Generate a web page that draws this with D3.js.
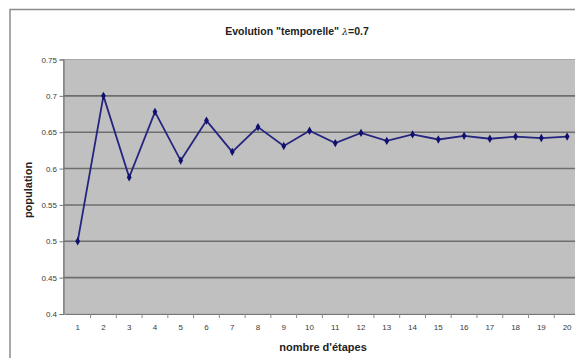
<!DOCTYPE html>
<html>
<head>
<meta charset="utf-8">
<script src="https://cdn.jsdelivr.net/npm/d3@7/dist/d3.min.js"></script>
<style>
  body { margin: 0; background: #fff; }
  svg { display: block; font-family: "Liberation Sans", Arial, sans-serif; }
</style>
</head>
<body>
<svg id="chart" width="575" height="358"></svg>
<script>
// chart data
var etapes = d3.range(1, 21);
var population = [0.5, 0.7, 0.588, 0.678, 0.611, 0.666, 0.623, 0.657, 0.631, 0.652,
                  0.635, 0.649, 0.638, 0.647, 0.640, 0.645, 0.641, 0.644, 0.642, 0.644];
var yTicks = [0.4, 0.45, 0.5, 0.55, 0.6, 0.65, 0.7, 0.75];
var yTickLabels = ["0.4", "0.45", "0.5", "0.55", "0.6", "0.65", "0.7", "0.75"];

var svg = d3.select("#chart");
var plot = {left: 63.5, top: 59.5, right: 580, bottom: 314};

// outer chart frame
svg.append("rect")
    .attr("x", 10).attr("y", 9.5)
    .attr("width", 600).attr("height", 400)
    .attr("fill", "#fff")
    .attr("stroke", "#8c8c8c")
    .attr("stroke-width", 1.5);

var x = d3.scaleBand()
    .domain(etapes)
    .range([plot.left + 1.3, plot.right]);

var y = d3.scaleLinear()
    .domain([0.4, 0.75])
    .range([plot.bottom, plot.top]);

// plot area
svg.append("rect")
    .attr("x", plot.left).attr("y", plot.top)
    .attr("width", plot.right - plot.left)
    .attr("height", plot.bottom - plot.top)
    .attr("fill", "#c0c0c0")
    .attr("stroke", "#a8a8a8");

// grid lines
svg.selectAll(".grid")
    .data(yTicks.filter(function (d) { return d > 0.4 && d < 0.75; }))
    .enter().append("line")
    .attr("class", "grid")
    .attr("x1", plot.left).attr("x2", plot.right)
    .attr("y1", function (d) { return y(d); })
    .attr("y2", function (d) { return y(d); })
    .attr("stroke", "#6e6e6e")
    .attr("stroke-width", 1.6);

// y axis
var yAxis = d3.axisLeft(y)
    .tickValues(yTicks)
    .tickSize(4)
    .tickFormat(function (d, i) { return yTickLabels[i]; });
var gy = svg.append("g")
    .attr("transform", "translate(" + plot.left + ",0)")
    .call(yAxis);
gy.select(".domain").attr("stroke", "#777").attr("stroke-width", 1.2);
gy.selectAll(".tick line").attr("stroke", "#777");
gy.selectAll("text")
    .attr("x", -6.5)
    .attr("fill", "#3a3a3a")
    .style("font-size", "8px");

// x axis (ticks between categories)
var bw = x.bandwidth();
var xAxis = d3.axisBottom(x).tickSize(0).tickPadding(10);
var gx = svg.append("g")
    .attr("transform", "translate(0," + plot.bottom + ")")
    .call(xAxis);
gx.select(".domain").attr("stroke", "#777").attr("stroke-width", 1.2);
gx.selectAll("text")
    .attr("fill", "#3a3a3a")
    .style("font-size", "8px");
gx.selectAll(".sep")
    .data(etapes)
    .enter().append("line")
    .attr("class", "sep")
    .attr("x1", function (d) { return x(d) + bw; })
    .attr("x2", function (d) { return x(d) + bw; })
    .attr("y1", 0).attr("y2", 4)
    .attr("stroke", "#888");

// series line
var line = d3.line()
    .x(function (d, i) { return x(etapes[i]) + bw / 2; })
    .y(function (d) { return y(d); });

svg.append("path")
    .datum(population)
    .attr("d", line)
    .attr("fill", "none")
    .attr("stroke", "#25257f")
    .attr("stroke-width", 1.8);

// diamond markers
svg.selectAll(".marker")
    .data(population)
    .enter().append("path")
    .attr("class", "marker")
    .attr("d", d3.symbol().type(d3.symbolDiamond).size(20))
    .attr("transform", function (d, i) {
        return "translate(" + (x(etapes[i]) + bw / 2) + "," + y(d) + ")";
    })
    .attr("fill", "#10106e");

// title
var title = svg.append("text")
    .attr("x", 297).attr("y", 35)
    .attr("text-anchor", "middle")
    .attr("fill", "#222")
    .style("font-size", "10.5px")
    .style("font-weight", "bold");
title.append("tspan").text("Evolution \"temporelle\" ");
title.append("tspan").text("\u03bb").style("font-weight", "normal").style("font-style", "italic")
    .style("font-size", "9.5px").style("font-family", "DejaVu Serif");
title.append("tspan").text("=0.7");

// axis labels
svg.append("text")
    .attr("transform", "translate(32,190)rotate(-90)")
    .attr("text-anchor", "middle")
    .attr("fill", "#222")
    .style("font-size", "11px")
    .style("font-weight", "bold")
    .text("population");

svg.append("text")
    .attr("x", 323).attr("y", 351)
    .attr("text-anchor", "middle")
    .attr("fill", "#222")
    .style("font-size", "11px")
    .style("font-weight", "bold")
    .text("nombre d'\u00e9tapes");
</script>
</body>
</html>
